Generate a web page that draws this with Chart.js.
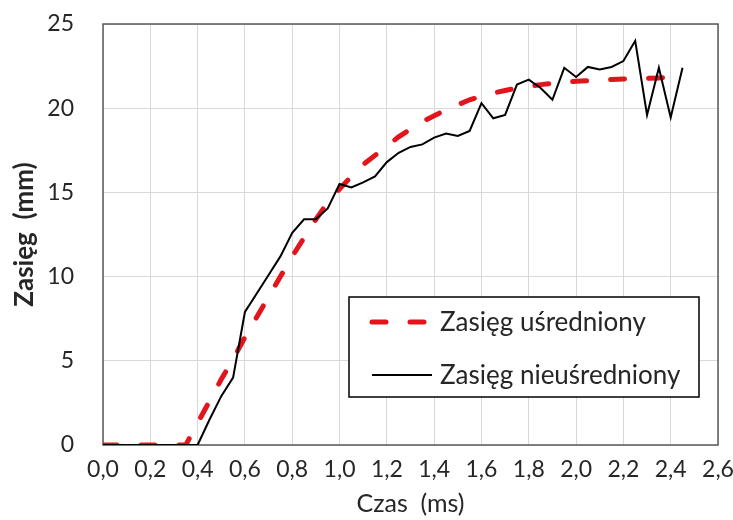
<!DOCTYPE html>
<html>
<head>
<meta charset="utf-8">
<script src="https://cdn.jsdelivr.net/npm/chart.js@4"></script>
<style>
    html, body { margin: 0; padding: 0; background: #fff; }
    #chart-range--wrap { width: 733px; height: 520px; position: relative; }
</style>
</head>
<body>
<div id="chart-range--wrap"><canvas id="chart-range--chart"></canvas></div>
<script>
// time samples (ms)
const times = [
    0.00, 0.05, 0.10, 0.15, 0.20, 0.25, 0.30, 0.35, 0.40, 0.45,
    0.50, 0.55, 0.60, 0.65, 0.70, 0.75, 0.80, 0.85, 0.90, 0.95,
    1.00, 1.05, 1.10, 1.15, 1.20, 1.25, 1.30, 1.35, 1.40, 1.45,
    1.50, 1.55, 1.60, 1.65, 1.70, 1.75, 1.80, 1.85, 1.90, 1.95,
    2.00, 2.05, 2.10, 2.15, 2.20, 2.25, 2.30, 2.35, 2.40, 2.45,
];
// averaged range (mm), ends at 2.40 ms
const range_avg = [
    0, 0, 0, 0, 0, 0, 0, 0, 1.3, 2.6,
    3.9, 5.1, 6.4, 7.6, 8.8, 10.0, 11.2, 12.3, 13.4, 14.4,
    15.2, 15.95, 16.65, 17.2, 17.75, 18.3, 18.75, 19.2, 19.55, 19.9,
    20.2, 20.5, 20.7, 20.9, 21.05, 21.2, 21.3, 21.4, 21.47, 21.53,
    21.6, 21.63, 21.67, 21.7, 21.73, 21.75, 21.77, 21.8, 21.83,
];
// raw range (mm)
const range_raw = [
    0, 0, 0, 0, 0, 0, 0, 0, 0, 1.5,
    2.9, 4.0, 7.9, 9.0, 10.1, 11.2, 12.6, 13.4, 13.4, 14.05,
    15.5, 15.3, 15.6, 15.95, 16.8, 17.35, 17.7, 17.85, 18.25, 18.5,
    18.35, 18.65, 20.3, 19.4, 19.6, 21.4, 21.7, 21.2, 20.5, 22.4,
    21.85, 22.45, 22.3, 22.45, 22.8, 24.0, 19.6, 22.4, 19.45, 22.4,
];
const x_ticks = [0, 0.2, 0.4, 0.6, 0.8, 1.0, 1.2, 1.4, 1.6, 1.8, 2.0, 2.2, 2.4, 2.6];
const y_ticks = [0, 5, 10, 15, 20, 25];

const FONT = 'Lato, "Open Sans", sans-serif';

function toPoints(values) {
    return values.map((v, i) => ({ x: times[i], y: v }));
}

const data_range = {
    datasets: [{
        label: 'Zasięg uśredniony',
        data: toPoints(range_avg),
        borderColor: '#e3141b',
        borderWidth: 5,
        borderDash: [14, 24],
        borderCapStyle: 'round',
        pointRadius: 0,
        tension: 0,
        order: 2,
    },
    {
        label: 'Zasięg nieuśredniony',
        data: toPoints(range_raw),
        borderColor: '#000000',
        borderWidth: 2,
        borderCapStyle: 'butt',
        pointRadius: 0,
        tension: 0,
        order: 1,
    }]
};

// box around the plot area
const plotFrame = {
    id: 'plotFrame',
    beforeDatasetsDraw(chart) {
        const { ctx, chartArea: a } = chart;
        ctx.save();
        ctx.strokeStyle = '#595959';
        ctx.lineWidth = 1.5;
        ctx.strokeRect(a.left, a.top, a.right - a.left, a.bottom - a.top);
        ctx.restore();
    }
};

// legend box sitting inside the plot
const insideLegend = {
    id: 'insideLegend',
    afterDatasetsDraw(chart, args, opts) {
        const { ctx, chartArea: a } = chart;
        const w = opts.width, h = opts.height;
        const x = a.right - opts.right - w;
        const y = a.bottom - opts.bottom - h;
        ctx.save();
        ctx.fillStyle = '#fff';
        ctx.fillRect(x, y, w, h);
        ctx.strokeStyle = '#000';
        ctx.lineWidth = 1.5;
        ctx.strokeRect(x, y, w, h);

        ctx.font = opts.fontSize + 'px ' + FONT;
        ctx.textBaseline = 'middle';
        ctx.textAlign = 'left';
        chart.data.datasets.forEach((ds, i) => {
            const cy = y + opts.rowTop + i * opts.rowGap;
            ctx.save();
            ctx.strokeStyle = ds.borderColor;
            ctx.lineWidth = ds.borderWidth;
            ctx.lineCap = ds.borderCapStyle || 'butt';
            ctx.setLineDash(ds.borderDash || []);
            ctx.beginPath();
            ctx.moveTo(x + opts.sampleLeft, cy);
            ctx.lineTo(x + opts.sampleLeft + opts.sampleWidth, cy);
            ctx.stroke();
            ctx.restore();
            ctx.fillStyle = '#262626';
            ctx.fillText(ds.label, x + opts.textLeft, cy + 1);
        });
        ctx.restore();
    }
};

const config_range = {
    type: 'line',
    data: data_range,
    plugins: [plotFrame, insideLegend],
    options: {
        responsive: true,
        maintainAspectRatio: false,
        animation: false,
        devicePixelRatio: 1,
        layout: {
            padding: { top: 24, right: 15, left: 0, bottom: 0 }
        },
        scales: {
            x: {
                type: 'linear',
                min: 0,
                max: 2.6,
                afterFit: (scale) => {
                    scale.height = 75;
                    scale.paddingLeft = 0;
                    scale.paddingRight = 0;
                },
                afterBuildTicks: (scale) => { scale.ticks = x_ticks.map(v => ({ value: v })); },
                grid: { color: '#d9d9d9', lineWidth: 1, drawTicks: false },
                border: { display: false },
                ticks: {
                    padding: 11,
                    color: '#262626',
                    font: { family: FONT, size: 23 },
                    callback: (v) => Number(v).toFixed(1).replace('.', ','),
                },
                title: {
                    display: true,
                    text: 'Czas  (ms)',
                    color: '#262626',
                    font: { family: FONT, size: 25 },
                    padding: { top: 0, bottom: 1 },
                }
            },
            y: {
                min: 0,
                max: 25,
                afterFit: (scale) => {
                    scale.width = 103;
                    scale.paddingTop = 0;
                    scale.paddingBottom = 0;
                },
                afterBuildTicks: (scale) => { scale.ticks = y_ticks.map(v => ({ value: v })); },
                grid: { color: '#d9d9d9', lineWidth: 1, drawTicks: false },
                border: { display: false },
                ticks: {
                    padding: 29,
                    color: '#262626',
                    font: { family: FONT, size: 23 },
                },
                title: {
                    display: true,
                    text: 'Zasięg  (mm)',
                    color: '#262626',
                    font: { family: FONT, size: 26, weight: 'bold' },
                    padding: { top: 9, bottom: 0 },
                }
            }
        },
        plugins: {
            legend: { display: false },
            tooltip: { enabled: false },
            insideLegend: {
                width: 350,
                height: 100,
                right: 19,
                bottom: 48,
                rowTop: 25,
                rowGap: 53,
                sampleLeft: 23,
                sampleWidth: 60,
                textLeft: 91,
                fontSize: 26,
            }
        }
    }
};

var chart_range = new Chart(
    document.getElementById('chart-range--chart'),
    config_range
);
</script>
</body>
</html>
